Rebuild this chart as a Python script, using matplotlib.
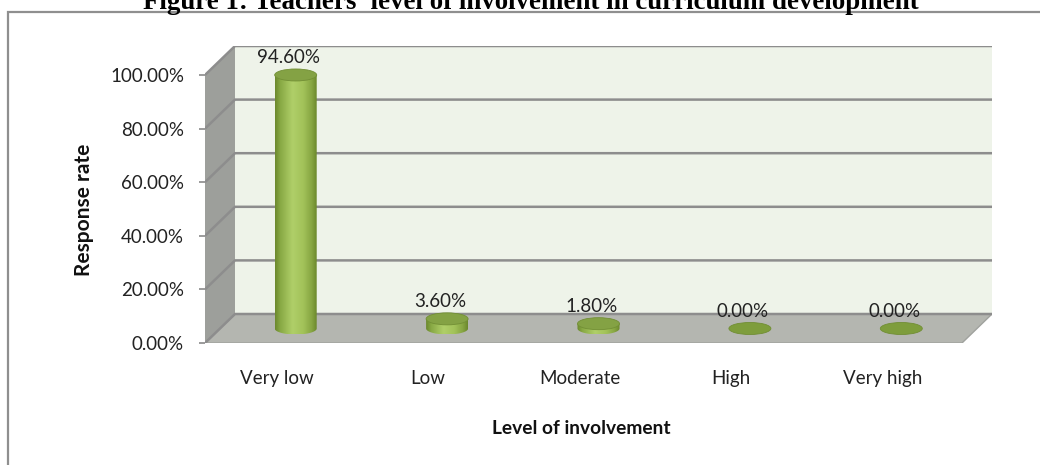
import numpy as np
import matplotlib
matplotlib.use("Agg")
import matplotlib.pyplot as plt
from matplotlib.patches import Polygon, Ellipse, Rectangle
from matplotlib.colors import LinearSegmentedColormap
import matplotlib.transforms as mtransforms

# ---------------- data ----------------
categories = ["Very low", "Low", "Moderate", "High", "Very high"]
values = [94.60, 3.60, 1.80, 0.00, 0.00]
value_labels = ["94.60%", "3.60%", "1.80%", "0.00%", "0.00%"]
yticks = [0, 20, 40, 60, 80, 100]
ytick_labels = ["0.00%", "20.00%", "40.00%", "60.00%", "80.00%", "100.00%"]
title = "Figure 1: Teachers' level of involvement in curriculum development"
xlabel = "Level of involvement"
ylabel = "Response rate"

plt.rcParams['font.family'] = ['Lato', 'DejaVu Sans']

W, H, DPI = 1040, 465, 100
fig = plt.figure(figsize=(W / DPI, H / DPI), dpi=DPI)
fig.patch.set_facecolor('white')

# layout (pixels)
front_left, front_right = 205, 962
front_bottom, front_top = 343, 75
depth_x, depth_y = 30, 29

ymax = 100
n = len(categories)
unit_x = (front_right - front_left) / n
unit_y = (front_bottom - front_top) / ymax
kx = depth_x / unit_x
ky = depth_y / unit_y

ax = fig.add_axes([front_left / W, 1 - front_bottom / H,
                   (front_right + depth_x - front_left) / W,
                   (front_bottom - front_top + depth_y) / H])
ax.set_facecolor('none')
for s in ax.spines.values():
    s.set_visible(False)


def P(x, y, z):
    """oblique projection of (category x, value y, depth z) into axes data."""
    return (x + z * kx, y + z * ky)


# walls
ax.add_patch(Polygon([P(0, 0, 1), P(n, 0, 1), P(n, ymax, 1), P(0, ymax, 1)],
                     closed=True, fc='#eef3e9', ec='none', zorder=1))
ax.add_patch(Polygon([P(0, 0, 0), P(0, 0, 1), P(0, ymax, 1), P(0, ymax, 0)],
                     closed=True, fc='#9d9f9b', ec='none', zorder=1))
ax.add_patch(Polygon([P(0, 0, 0), P(n, 0, 0), P(n, 0, 1), P(0, 0, 1)],
                     closed=True, fc='#b4b6b0', ec='#a0a29e', lw=1.0, zorder=1))

# gridlines (side wall + back wall)
for v in yticks:
    pts = [P(0, v, 0), P(0, v, 1), P(n, v, 1)]
    ax.plot([p[0] for p in pts], [p[1] for p in pts], color='#8d8d8d',
            lw=1.8, zorder=2, solid_capstyle='butt')

# cylinders
cyl_cmap = LinearSegmentedColormap.from_list('cyl', [
    (0.0, '#6c892d'), (0.12, '#88a944'), (0.42, '#b0cf69'),
    (0.68, '#a2c259'), (0.88, '#87a642'), (1.0, '#6c892d')])
grad = np.linspace(0, 1, 64).reshape(1, -1)
w = 42 / unit_x
eh = 12 / unit_y

for i, (v, lbl) in enumerate(zip(values, value_labels)):
    cx, cy0 = P(i + 0.5, 0, 0.5)
    cy1 = cy0 + v
    if v > 0:
        t = np.linspace(np.pi, 2 * np.pi, 60)
        arc = list(zip(cx + w / 2 * np.cos(t), cy0 + eh / 2 * np.sin(t)))
        verts = [(cx - w / 2, cy1)] + arc + [(cx + w / 2, cy1)]
        body = Polygon(verts, closed=True, fc='none', ec='none',
                       transform=ax.transData)
        ax.add_patch(body)
        im = ax.imshow(grad, extent=[cx - w / 2, cx + w / 2, cy0 - eh / 2, cy1],
                       aspect='auto', cmap=cyl_cmap, zorder=3,
                       interpolation='bilinear')
        im.set_clip_path(body)
        ax.add_patch(Ellipse((cx, cy1), w, eh, fc='#84a244', ec='#728f35',
                             lw=0.6, zorder=4))
    else:
        ax.add_patch(Ellipse((cx, cy0), w, eh, fc='#7e9d3c', ec='#718e34',
                             lw=0.6, zorder=4))
    ax.annotate(lbl, xy=(cx, cy1), xytext=(-7 * 72 / DPI, 17 * 72 / DPI),
                textcoords='offset points', ha='center', va='center',
                fontsize=13.5, color='#222222', zorder=5)

ax.set_xlim(0, n + kx)
ax.set_ylim(0, ymax + ky)

# axes ticks
ax.set_yticks(yticks, ytick_labels)
ax.tick_params(axis='y', length=6 * 72 / DPI, width=1.2, color='#8a8a8a',
               pad=15 * 72 / DPI, labelsize=13.5, labelcolor='#222222')
ax.set_xticks([i + 0.5 for i in range(n)], categories)
ax.tick_params(axis='x', length=0, pad=27 * 72 / DPI, labelsize=13.5,
               labelcolor='#222222')
shift = mtransforms.ScaledTranslation(-4 / DPI, 0, fig.dpi_scale_trans)
for lab in ax.get_xticklabels():
    lab.set_transform(lab.get_transform() + shift)

fig.text(581 / W, 1 - 428 / H, xlabel, ha='center', va='center',
         fontsize=13.8, fontweight='bold', color='#111111')
fig.text(84 / W, 1 - 210 / H, ylabel, ha='center', va='center', rotation=90,
         fontsize=15, fontweight='bold', color='#111111')

# title (cut off at top, as in the source)
fig.text(531 / W, 1 - 9 / H, title, ha='center', va='baseline',
         family='Liberation Serif', fontweight='bold', fontsize=19.4,
         color='black')

# outer frame
fig.add_artist(Rectangle((8 / W, -1), 2, 1 + (1 - 12 / H),
                         transform=fig.transFigure, fill=False,
                         ec='#8f8f8f', lw=1.6, clip_on=False))

fig.savefig('out.png', dpi=DPI)
